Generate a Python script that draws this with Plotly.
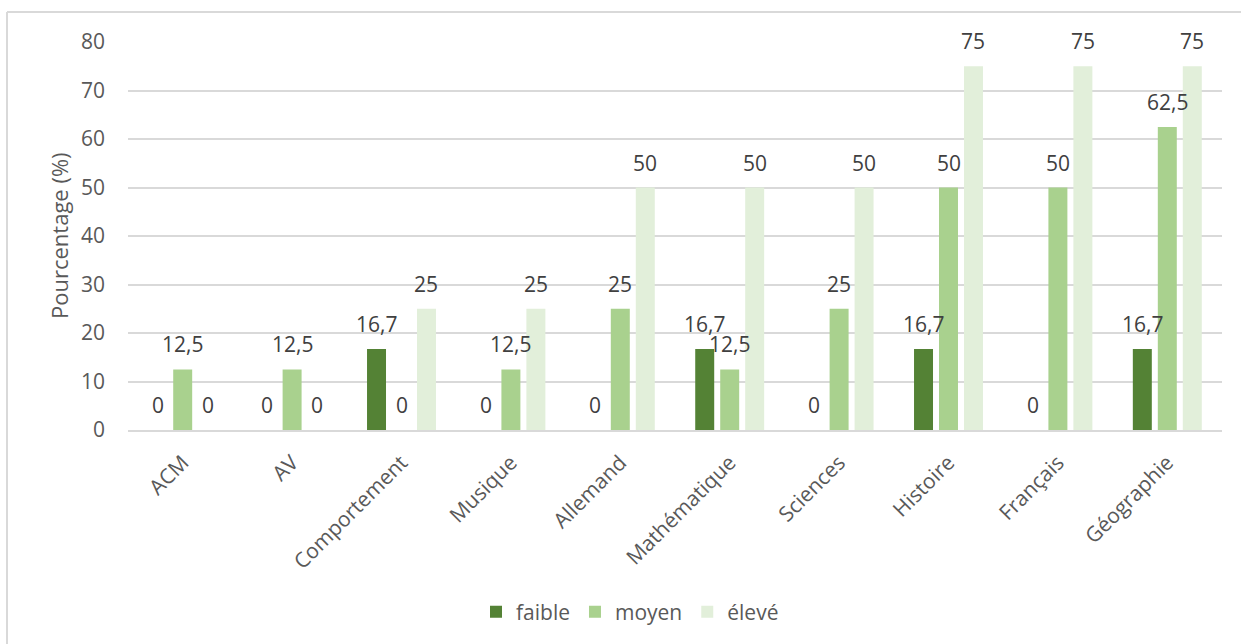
import plotly.graph_objects as go

# Subjects and share of pupils (%) per level
categories = ["ACM", "AV", "Comportement", "Musique", "Allemand",
              "Mathématique", "Sciences", "Histoire", "Français", "Géographie"]
faible = [0, 0, 16.7, 0, 0, 16.7, 0, 16.7, 0, 16.7]
moyen = [12.5, 12.5, 0, 12.5, 25, 12.5, 25, 50, 50, 62.5]
eleve = [0, 0, 25, 25, 50, 50, 50, 75, 75, 75]

series = [
    ("faible", faible, "#548235"),
    ("moyen", moyen, "#A9D18E"),
    ("élevé", eleve, "#E2EFDA"),
]

W, H = 1241, 644
M_L, M_R, M_T, M_B = 128, 19, 42, 214
BARGAP = 0.315
BARGROUPGAP = 0.24
FONT = "Open Sans"
LABEL_COLOR = "#404040"
AXIS_COLOR = "#595959"
GRID = "#D9D9D9"
FS = 21


def fmt(v):
    """French-style number: decimal comma, no trailing zero."""
    if float(v).is_integer():
        return str(int(v))
    return f"{v:.1f}".replace(".", ",")


fig = go.Figure()
for name, vals, color in series:
    fig.add_trace(go.Bar(
        name=name, x=categories, y=vals,
        marker=dict(color=color, line=dict(width=0)),
    ))

# value labels above every bar (including zero values)
slot = (1 - BARGAP) / len(series)
annotations = []
for k, (name, vals, color) in enumerate(series):
    offset = (k - (len(series) - 1) / 2) * slot
    for i, v in enumerate(vals):
        annotations.append(dict(
            x=i + offset, y=v, xref="x", yref="y",
            text=fmt(v), showarrow=False,
            yanchor="middle", yshift=25,
            font=dict(family=FONT, size=FS, color=LABEL_COLOR),
        ))

plot_w = W - M_L - M_R
plot_h = H - M_T - M_B

# y-axis title
annotations.append(dict(
    x=(59 - M_L) / plot_w, y=0.5, xref="paper", yref="paper",
    text="Pourcentage (%)", textangle=-90, showarrow=False,
    xanchor="center", yanchor="middle",
    font=dict(family=FONT, size=22, color=AXIS_COLOR),
))

# chart frame (left and top edges visible)
x_left = (7 - M_L) / plot_w
y_top = 1 + (M_T - 12) / plot_h
shapes = [
    dict(type="line", xref="paper", yref="paper", x0=x_left, x1=x_left,
         y0=y_top, y1=-2, line=dict(color=GRID, width=2)),
    dict(type="line", xref="paper", yref="paper", x0=x_left, x1=2,
         y0=y_top, y1=y_top, line=dict(color=GRID, width=2)),
]

fig.update_layout(
    width=W, height=H,
    margin=dict(l=M_L, r=M_R, t=M_T, b=M_B, pad=0),
    paper_bgcolor="white", plot_bgcolor="white",
    barmode="group", bargap=BARGAP, bargroupgap=BARGROUPGAP,
    font=dict(family=FONT, size=FS, color=AXIS_COLOR),
    annotations=annotations, shapes=shapes,
    showlegend=True,
    legend=dict(
        orientation="h", x=(476 - M_L) / plot_w, xanchor="left",
        y=(M_T + plot_h - 612) / plot_h, yanchor="middle",
        font=dict(family=FONT, size=FS, color=AXIS_COLOR),
        traceorder="normal",
    ),
)

fig.update_xaxes(
    type="category", tickangle=-45, showgrid=False,
    showline=True, linecolor=GRID, linewidth=2,
    ticks="", ticklabelstandoff=10,
    tickfont=dict(family=FONT, size=FS, color=AXIS_COLOR),
)
fig.update_yaxes(
    range=[0, 80], dtick=10, showgrid=True, gridcolor=GRID, gridwidth=2,
    zeroline=False, showline=False, ticks="", ticklabelstandoff=22,
    tickfont=dict(family=FONT, size=FS, color=AXIS_COLOR),
)

fig.write_html("out.html")
